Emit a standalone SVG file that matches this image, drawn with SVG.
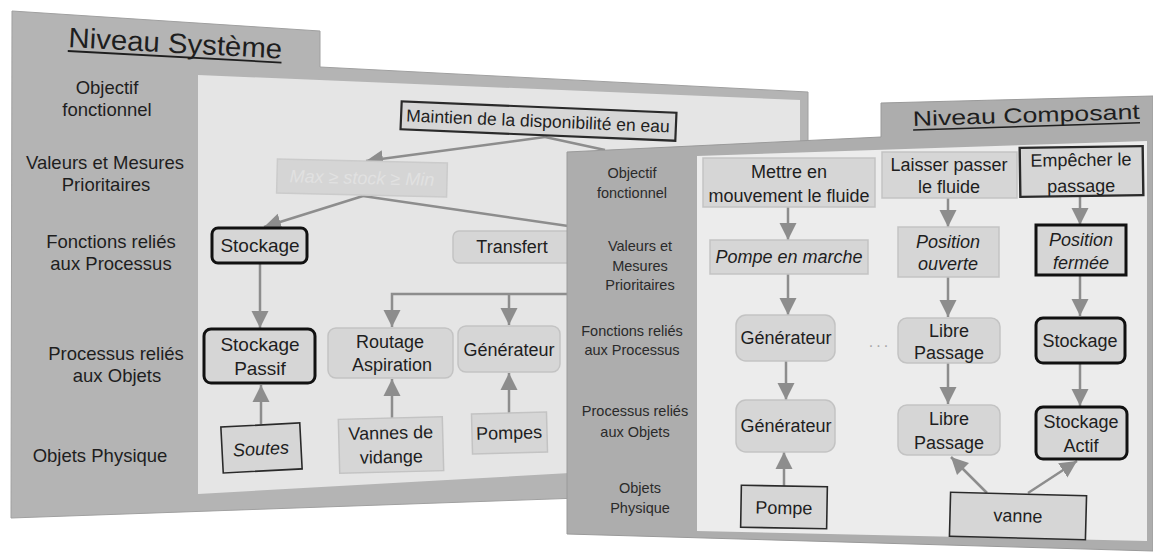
<svg xmlns="http://www.w3.org/2000/svg" width="1153" height="554" viewBox="0 0 1153 554">
<style>
text{font-family:"Liberation Sans",Arial,sans-serif;fill:#1e1e1e;text-anchor:middle}
.lab{font-size:18.5px}
.rlab{font-size:14.5px;fill:#2a2a2a}
.t18{font-size:18px}
.t19{font-size:19px}
.it{font-style:italic}
.box{fill:#d6d6d6;stroke:#c3c3c3;stroke-width:1.5}
.bold{fill:#d6d6d6;stroke:#111;stroke-width:3}
.thin{fill:#d6d6d6;stroke:#2a2a2a;stroke-width:1.6}
.conn{fill:none;stroke:#8d8d8d;stroke-width:2.5}
.arr{marker-end:url(#ah)}
</style>
<defs>
<marker id="ah" viewBox="0 0 10 10" refX="10" refY="5" markerUnits="userSpaceOnUse" markerWidth="17" markerHeight="18" orient="auto">
<path d="M0,0 L10,5 L0,10 z" fill="#8d8d8d"/>
</marker>
</defs>
<rect width="1153" height="554" fill="#ffffff"/>

<g id="panel-systeme">
<polygon points="12,11 320,31 320,67 808,92 808,490 11,518" fill="#b4b4b4" stroke="#a0a0a0" stroke-width="1"/>
<polygon points="198,75 800,100 800,460 198,494" fill="#e5e5e5"/>
<g transform="rotate(3.1 68 47)">
<text x="68" y="47" style="font-size:28px;text-anchor:start" textLength="214" lengthAdjust="spacingAndGlyphs">Niveau  Système</text>
<line x1="68" y1="51" x2="282" y2="51" stroke="#1e1e1e" stroke-width="1.8"/>
</g>
<text class="lab" x="107" y="94">Objectif</text>
<text class="lab" x="107" y="116">fonctionnel</text>
<text class="lab" x="105" y="169">Valeurs et Mesures</text>
<text class="lab" x="106" y="191">Prioritaires</text>
<text class="lab" x="111" y="248">Fonctions reliés</text>
<text class="lab" x="111" y="270">aux Processus</text>
<text class="lab" x="116" y="360">Processus reliés</text>
<text class="lab" x="117" y="382">aux Objets</text>
<text class="lab" x="100" y="462">Objets Physique</text>
</g>

<g id="sys-connectors">
<line class="conn arr" x1="545" y1="137" x2="366" y2="161"/>
<line class="conn" x1="545" y1="137" x2="605" y2="150"/>
<line class="conn arr" x1="363" y1="196" x2="264" y2="227"/>
<line class="conn" x1="363" y1="196" x2="575" y2="227"/>
<line class="conn arr" x1="260" y1="263" x2="260" y2="328"/>
<line class="conn arr" x1="261" y1="424" x2="261" y2="385"/>
<path class="conn arr" d="M575,294 H392 V327"/>
<line class="conn arr" x1="509" y1="294" x2="509" y2="325"/>
<line class="conn arr" x1="392" y1="418" x2="392" y2="379"/>
<line class="conn arr" x1="509" y1="413" x2="509" y2="373"/>
</g>

<g id="n-maintien" transform="rotate(2.4 538 121)">
<rect class="thin" x="401" y="107" width="275" height="28" style="stroke-width:2.2"/>
<text style="font-size:17.5px" x="538" y="127">Maintien  de la disponibilité en eau</text>
</g>
<g id="n-max" transform="rotate(1.4 362 178)">
<rect x="277" y="161" width="170" height="34" fill="#d5d5d5" stroke="#cbcbcb" stroke-width="1.5"/>
<text class="t18 it" x="362" y="184" style="fill:#e1e1e1">Max ≥ stock ≥ Min</text>
</g>
<g id="n-stockage">
<rect class="bold" x="212" y="228" width="95" height="35" rx="6"/>
<text class="t19" x="260" y="252">Stockage</text>
</g>
<g id="n-transfert">
<rect class="box" x="453" y="231" width="130" height="32" rx="6"/>
<text class="t18" x="512" y="253">Transfert</text>
</g>
<g id="n-stockage-passif">
<rect class="bold" x="204" y="329" width="111" height="54" rx="7"/>
<text class="t19" x="260" y="351">Stockage</text>
<text class="t19" x="260" y="375">Passif</text>
</g>
<g id="n-routage">
<rect class="box" x="328" y="328" width="125" height="50" rx="8"/>
<text class="t18" x="390" y="348">Routage</text>
<text class="t18" x="392" y="371">Aspiration</text>
</g>
<g id="n-generateur-sys">
<rect class="box" x="458" y="326" width="102" height="46" rx="8"/>
<text class="t18" x="509" y="356">Générateur</text>
</g>
<g id="n-soutes" transform="rotate(-3 261 448)">
<rect class="thin" x="222" y="425" width="79" height="46"/>
<text class="t18 it" x="261" y="455">Soutes</text>
</g>
<g id="n-vannes" transform="rotate(-1.5 391 445)">
<rect class="box" x="339" y="418" width="104" height="54"/>
<text class="t18" x="391" y="439">Vannes de</text>
<text class="t18" x="391" y="463">vidange</text>
</g>
<g id="n-pompes" transform="rotate(-1.5 509 433)">
<rect class="box" x="472" y="413" width="75" height="40"/>
<text class="t18" x="509" y="439">Pompes</text>
</g>

<g id="panel-composant">
<polygon points="567,152 881,137 881,103 1153,96 1153,551 567,534" fill="#adadad" stroke="#9a9a9a" stroke-width="1"/>
<polygon points="697,156 1147,141 1147,541 697,531" fill="#ececec"/>
<g transform="rotate(-1.8 913 126)">
<text x="913" y="126" style="font-size:21px;text-anchor:start" textLength="227" lengthAdjust="spacingAndGlyphs">Niveau  Composant</text>
<line x1="913" y1="130" x2="1140" y2="130" stroke="#1e1e1e" stroke-width="1.5"/>
</g>
<text class="rlab" x="632" y="178">Objectif</text>
<text class="rlab" x="632" y="198">fonctionnel</text>
<text class="rlab" x="640" y="251">Valeurs et</text>
<text class="rlab" x="640" y="271">Mesures</text>
<text class="rlab" x="640" y="290">Prioritaires</text>
<text class="rlab" x="632" y="336">Fonctions reliés</text>
<text class="rlab" x="632" y="355">aux Processus</text>
<text class="rlab" x="635" y="416">Processus reliés</text>
<text class="rlab" x="635" y="437">aux Objets</text>
<text class="rlab" x="640" y="493">Objets</text>
<text class="rlab" x="640" y="513">Physique</text>
</g>

<g id="comp-connectors">
<line class="conn arr" x1="788" y1="207" x2="788" y2="240"/>
<line class="conn arr" x1="788" y1="274" x2="788" y2="315"/>
<line class="conn arr" x1="786" y1="361" x2="786" y2="400"/>
<line class="conn arr" x1="784" y1="486" x2="784" y2="452"/>
<line class="conn arr" x1="948" y1="198" x2="948" y2="227"/>
<line class="conn arr" x1="948" y1="277" x2="948" y2="317"/>
<line class="conn arr" x1="948" y1="363" x2="948" y2="404"/>
<line class="conn arr" x1="1080" y1="196" x2="1080" y2="225"/>
<line class="conn arr" x1="1080" y1="275" x2="1080" y2="316"/>
<line class="conn arr" x1="1080" y1="363" x2="1080" y2="406"/>
<line class="conn arr" x1="987" y1="493" x2="951" y2="457"/>
<line class="conn arr" x1="1028" y1="493" x2="1077" y2="461"/>
</g>

<g id="c-mettre">
<rect class="box" x="703" y="158" width="172" height="49"/>
<text class="t18" x="789" y="178">Mettre en</text>
<text class="t18" x="789" y="202">mouvement le fluide</text>
</g>
<g id="c-pompe-marche">
<rect class="box" x="710" y="240" width="158" height="34"/>
<text class="t18 it" x="789" y="263">Pompe en marche</text>
</g>
<g id="c-generateur-f">
<rect class="box" x="736" y="315" width="99" height="46" rx="10"/>
<text class="t18" x="786" y="344">Générateur</text>
</g>
<g id="c-generateur-p">
<rect class="box" x="736" y="400" width="99" height="52" rx="10"/>
<text class="t18" x="786" y="432">Générateur</text>
</g>
<g id="c-pompe" transform="rotate(1 784 507)">
<rect class="thin" x="741" y="486" width="86" height="42"/>
<text class="t18" x="784" y="514">Pompe</text>
</g>
<g id="c-laisser">
<rect class="box" x="882" y="152" width="135" height="46"/>
<text class="t18" x="949" y="171">Laisser passer</text>
<text class="t18" x="949" y="193">le fluide</text>
</g>
<g id="c-position-ouverte">
<rect class="box" x="898" y="227" width="101" height="50"/>
<text class="t18 it" x="948" y="248">Position</text>
<text class="t18 it" x="948" y="270">ouverte</text>
</g>
<g id="c-libre-f">
<rect class="box" x="898" y="318" width="102" height="45" rx="9"/>
<text class="t18" x="949" y="337">Libre</text>
<text class="t18" x="949" y="359">Passage</text>
</g>
<text id="c-dots" x="880" y="347" style="font-size:16px;fill:#a8a8a8;letter-spacing:3px">...</text>
<g id="c-libre-p">
<rect class="box" x="898" y="405" width="102" height="50" rx="9"/>
<text class="t18" x="949" y="425">Libre</text>
<text class="t18" x="949" y="449">Passage</text>
</g>
<g id="c-empecher" transform="rotate(-0.8 1081 171)">
<rect class="thin" x="1020" y="147" width="123" height="49" style="stroke-width:2.4"/>
<text class="t18" x="1081" y="166">Empêcher le</text>
<text class="t18" x="1081" y="192">passage</text>
</g>
<g id="c-position-fermee">
<rect class="bold" x="1036" y="225" width="90" height="50"/>
<text class="t18 it" x="1081" y="246">Position</text>
<text class="t18 it" x="1081" y="269">fermée</text>
</g>
<g id="c-stockage-f">
<rect class="bold" x="1036" y="318" width="89" height="45" rx="7"/>
<text class="t18" x="1080" y="347">Stockage</text>
</g>
<g id="c-stockage-actif">
<rect class="bold" x="1036" y="407" width="91" height="52" rx="7"/>
<text class="t18" x="1081" y="428">Stockage</text>
<text class="t18" x="1081" y="452">Actif</text>
</g>
<g id="c-vanne" transform="rotate(1.5 1018 516)">
<rect class="thin" x="950" y="494" width="136" height="44"/>
<text class="t18" x="1018" y="522">vanne</text>
</g>
</svg>
